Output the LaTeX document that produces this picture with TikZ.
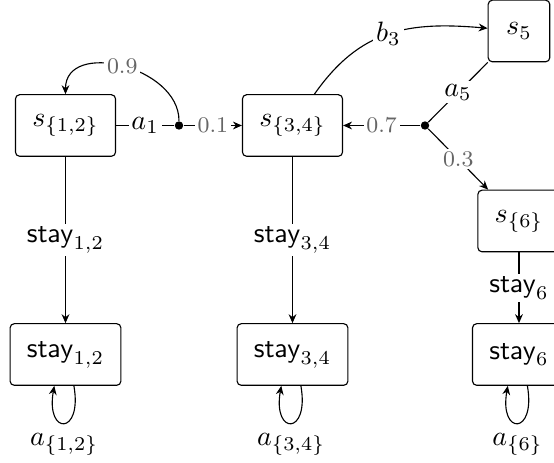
\documentclass[tikz,border=0pt]{standalone}
\usetikzlibrary{arrows.meta}
\begin{document}
\begin{tikzpicture}[x=0.357pt,y=0.357pt,
  state/.style={draw, rounded corners=1.5pt, minimum width=22pt, minimum height=22pt, inner xsep=6pt, line width=0.4pt},
  dotnode/.style={circle, fill, inner sep=0pt, minimum size=3pt},
  arr/.style={-{Stealth[length=3.2pt,width=2.8pt]}},
  prob/.style={fill=white, font=\footnotesize, text=black!60, inner sep=1pt},
  act/.style={fill=white, inner sep=1pt},
  selfloop/.style={out=-80, in=-100, distance=18pt},
]
\useasboundingbox (0,0) rectangle (554,-463);

\node[state] (s12) at (65.5,-125.5) {$s_{\{1,2\}}$};
\node[state] (s34) at (292.5,-125.5) {$s_{\{3,4\}}$};
\node[state] (s5) at (519,-31) {$s_5$};
\node[state] (s6) at (519,-221) {$s_{\{6\}}$};
\node[state] (st12) at (65.5,-354.5) {$\mathsf{stay}_{1,2}$};
\node[state] (st34) at (292.5,-354.5) {$\mathsf{stay}_{3,4}$};
\node[state] (st6) at (519,-354.5) {$\mathsf{stay}_{6}$};
\node[dotnode] (d1) at (179,-125.5) {};
\node[dotnode] (d2) at (425,-125.5) {};

\draw (s12) -- node[act] {$a_1$} (d1);
\draw[arr] (d1) -- node[prob] {$0.1$} (s34);
\draw[arr] (d1) to[out=90, in=90, looseness=1.2] node[prob] {$0.9$} (s12);

\draw[arr] (s34) to[out=55, in=175, looseness=1.1] node[act] {$b_3$} (s5);
\draw (s5) -- node[act] {$a_5$} (d2);
\draw[arr] (d2) -- node[prob] {$0.7$} (s34);
\draw[arr] (d2) -- node[prob] {$0.3$} (s6);

\draw[arr] (s12) -- node[act] {$\mathsf{stay}_{1,2}$} (st12);
\draw[arr] (s34) -- node[act] {$\mathsf{stay}_{3,4}$} (st34);
\draw[arr] (s6) -- node[act] {$\mathsf{stay}_{6}$} (st6);

\draw[arr] ([xshift=3pt]st12.south) to[selfloop] node[below=0pt] {$a_{\{1,2\}}$} ([xshift=-4pt]st12.south);
\draw[arr] ([xshift=3pt]st34.south) to[selfloop] node[below=0pt] {$a_{\{3,4\}}$} ([xshift=-4pt]st34.south);
\draw[arr] ([xshift=3pt]st6.south) to[selfloop] node[below=0pt] {$a_{\{6\}}$} ([xshift=-4pt]st6.south);
\end{tikzpicture}
\end{document}
